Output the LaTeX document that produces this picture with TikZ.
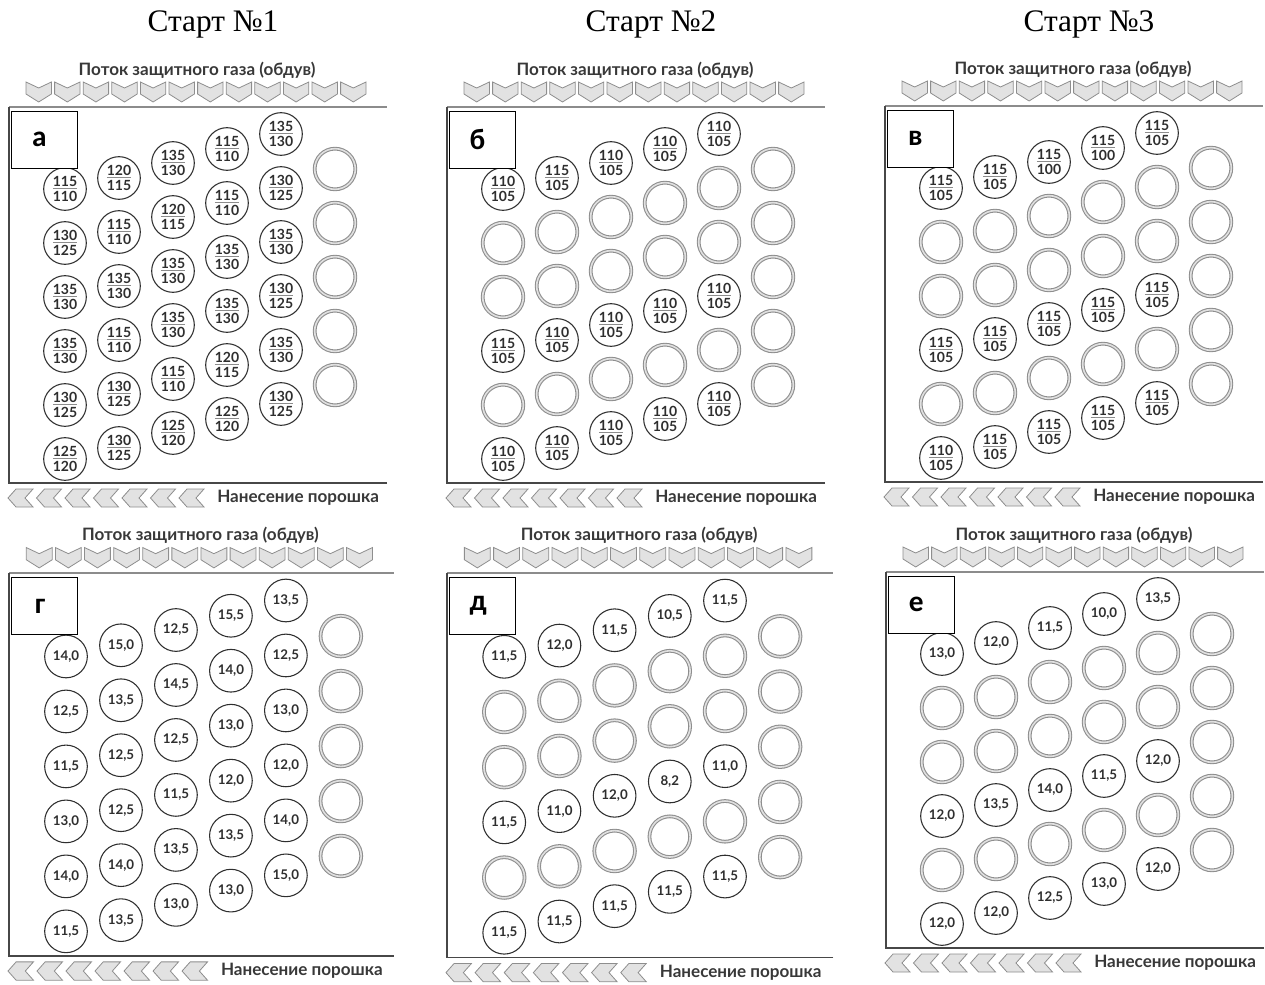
\documentclass[tikz,border=0pt]{standalone}
\usepackage{fontspec}
\setmainfont{Liberation Serif}
\newfontfamily\gasfont{Lato}
\newfontfamily\tagfont{Carlito}
\usetikzlibrary{positioning}

\definecolor{ringgray}{HTML}{8E8E8E}
\definecolor{fillgray}{HTML}{E2E2E2}
\definecolor{inkgray}{HTML}{2E2E2E}

\tikzset{
  hit/.style={circle, draw=inkgray, line width=0.8pt, minimum size=32pt, inner sep=0pt, align=center,
    text=inkgray, font=\gasfont\bfseries\fontsize{10.5}{11.5}\selectfont},
  tenth/.style={hit, font=\gasfont\bfseries\fontsize{10}{11}\selectfont},
  shot/.style={circle, draw=ringgray, line width=0.8pt, double=black!12, double distance=1.2pt,
    minimum size=30.5pt, inner sep=0pt},
  tagbox/.style={draw, line width=0.6pt, fill=white, minimum width=49.5pt, minimum height=42.75pt,
    font=\tagfont\bfseries\fontsize{22}{24}\selectfont},
  gasflow/.style={fill=fillgray, draw=ringgray, line width=0.6pt},
  caption/.style={font=\gasfont\bfseries\fontsize{12.8}{14}\selectfont, text=black!78, inner sep=0pt},
  start/.style={font=\fontsize{23.5}{26}\selectfont, inner sep=0pt}
}

\def\grayo{o}
\newcommand{\fr}[2]{{\color{black!45}\underline{\textcolor{inkgray}{#1}}}\\#2}

% one deposition map: #1 name, #2 letter, #3 origin, #4 scale, #5 cell style, #6 columns
\newcommand{\panel}[6]{%
  \begin{scope}[shift={#3}, scale=#4]
    \draw[line width=1.5pt, black!45] (0,0) -- (378,0);
    \draw[line width=1.1pt, black!72] (378,376) -- (0,376) -- (0,0);
    \node[caption] (#1-gas) at (188,-37) {Поток защитного газа (обдув)};
    \foreach \i in {0,...,11}
      \draw[gasflow, shift={(17+28.6*\i,-25)}] (0,0) -- (12.7,6) -- (25.4,0) -- (25.4,12) -- (12.7,20) -- (0,12) -- cycle;
    \foreach \i in {0,...,6}
      \draw[gasflow, shift={(-1+28.5*\i,382)}] (0,9) -- (8,0) -- (25,0) -- (17,9) -- (25,18) -- (8,18) -- cycle;
    \node[caption, anchor=west] (#1-powder) at (208,391) {Нанесение порошка};
    \foreach \col/\ystart/\cells in {#6} {
      \foreach \v [count=\j from 0] in \cells {
        \ifx\v\grayo
          \node[shot] (#1-\col-\j) at (56+54*\col, \ystart+54*\j) {};
        \else
          \node[#5] (#1-\col-\j) at (56+54*\col, \ystart+54*\j) {\v};
        \fi
      }
    }
    \foreach \j in {0,...,4}
      \node[shot] (#1-5-\j) at (326, 62+54*\j) {};
    \node[tagbox] (#1-tag) at (35,32.5) {\kern-7pt #2};
  \end{scope}}

\begin{document}
\begin{tikzpicture}[x=0.75pt, y=-0.75pt]
  \useasboundingbox (0,0) rectangle (1265,985);

  \node[start] (s1) at (213,24) {Старт №1};
  \node[start] (s2) at (651,24) {Старт №2};
  \node[start] (s3) at (1089,24) {Старт №3};

  \panel{a}{а}{(9,107)}{1}{hit}{
    0/82/{\fr{115}{110},\fr{130}{125},\fr{135}{130},\fr{135}{130},\fr{130}{125},\fr{125}{120}},
    1/71/{\fr{120}{115},\fr{115}{110},\fr{135}{130},\fr{115}{110},\fr{130}{125},\fr{130}{125}},
    2/56/{\fr{135}{130},\fr{120}{115},\fr{135}{130},\fr{135}{130},\fr{115}{110},\fr{125}{120}},
    3/42/{\fr{115}{110},\fr{115}{110},\fr{135}{130},\fr{135}{130},\fr{120}{115},\fr{125}{120}},
    4/27/{\fr{135}{130},\fr{130}{125},\fr{135}{130},\fr{130}{125},\fr{135}{130},\fr{130}{125}}}

  \panel{b}{б}{(447,107)}{1}{hit}{
    0/82/{\fr{110}{105},o,o,\fr{115}{105},o,\fr{110}{105}},
    1/71/{\fr{115}{105},o,o,\fr{110}{105},o,\fr{110}{105}},
    2/56/{\fr{110}{105},o,o,\fr{110}{105},o,\fr{110}{105}},
    3/42/{\fr{110}{105},o,o,\fr{110}{105},o,\fr{110}{105}},
    4/27/{\fr{110}{105},o,o,\fr{110}{105},o,\fr{110}{105}}}

  \panel{c}{в}{(885,106)}{1}{hit}{
    0/82/{\fr{115}{105},o,o,\fr{115}{105},o,\fr{110}{105}},
    1/71/{\fr{115}{105},o,o,\fr{115}{105},o,\fr{115}{105}},
    2/56/{\fr{115}{100},o,o,\fr{115}{105},o,\fr{115}{105}},
    3/42/{\fr{115}{100},o,o,\fr{115}{105},o,\fr{115}{105}},
    4/27/{\fr{115}{105},o,o,\fr{115}{105},o,\fr{115}{105}}}

  \panel{d}{г}{(9,573)}{1.018}{tenth}{
    0/82/{{14,0},{12,5},{11,5},{13,0},{14,0},{11,5}},
    1/71/{{15,0},{13,5},{12,5},{12,5},{14,0},{13,5}},
    2/56/{{12,5},{14,5},{12,5},{11,5},{13,5},{13,0}},
    3/42/{{15,5},{14,0},{13,0},{12,0},{13,5},{13,0}},
    4/27/{{13,5},{12,5},{13,0},{12,0},{14,0},{15,0}}}

  \panel{e}{д}{(447,573)}{1.022}{tenth}{
    0/82/{{11,5},o,o,{11,5},o,{11,5}},
    1/71/{{12,0},o,o,{11,0},o,{11,5}},
    2/56/{{11,5},o,o,{12,0},o,{11,5}},
    3/42/{{10,5},o,o,{8,2},o,{11,5}},
    4/27/{{11,5},o,o,{11,0},o,{11,5}}}

  \panel{f}{е}{(886,572)}{1}{tenth}{
    0/82/{{13,0},o,o,{12,0},o,{12,0}},
    1/71/{{12,0},o,o,{13,5},o,{12,0}},
    2/56/{{11,5},o,o,{14,0},o,{12,5}},
    3/42/{{10,0},o,o,{11,5},o,{13,0}},
    4/27/{{13,5},o,o,{12,0},o,{12,0}}}
\end{tikzpicture}
\end{document}
